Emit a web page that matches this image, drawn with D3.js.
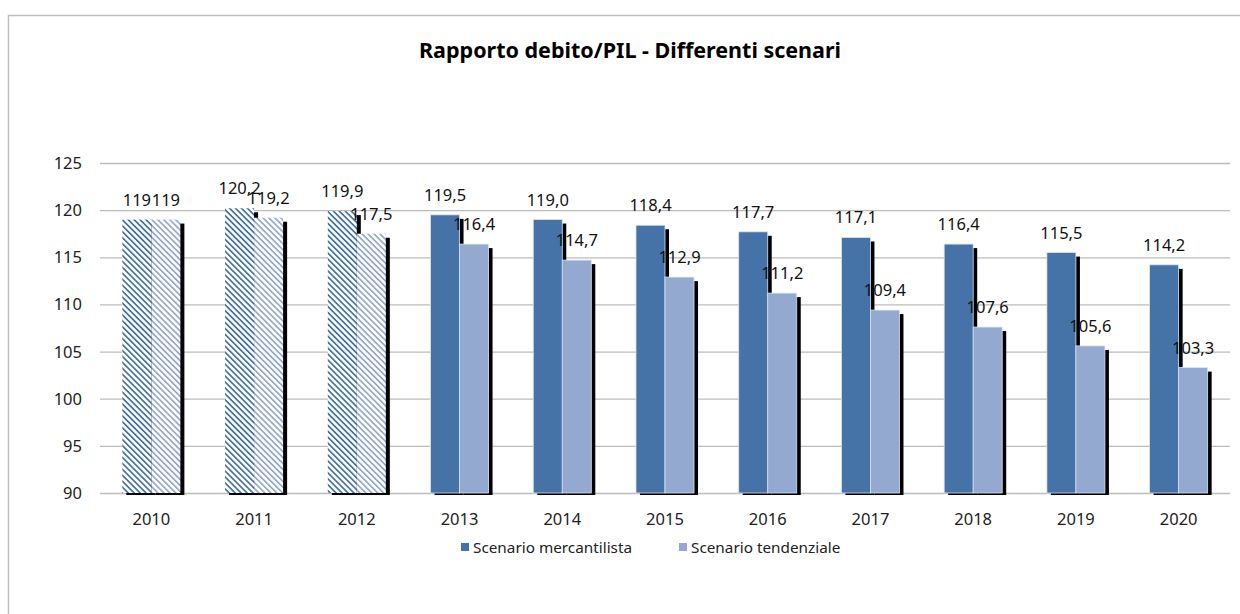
<!DOCTYPE html>
<html>
<head>
<meta charset="utf-8">
<script src="https://cdn.jsdelivr.net/npm/d3@7/dist/d3.min.js"></script>
<style>
  body { margin: 0; background: #fff; }
  svg { display: block; font-family: "Noto Sans", "Open Sans", sans-serif; }
</style>
</head>
<body>
<div id="chart"></div>
<script>
// dati
const anni = ["2010", "2011", "2012", "2013", "2014", "2015", "2016", "2017", "2018", "2019", "2020"];
const anniStorici = ["2010", "2011", "2012"]; // barre tratteggiate
const mercantilista = [119, 120.2, 119.9, 119.5, 119.0, 118.4, 117.7, 117.1, 116.4, 115.5, 114.2];
const tendenziale = [119, 119.2, 117.5, 116.4, 114.7, 112.9, 111.2, 109.4, 107.6, 105.6, 103.3];
const decimali = [0, 1, 1, 1, 1, 1, 1, 1, 1, 1, 1];
const yTicks = [90, 95, 100, 105, 110, 115, 120, 125];
const serie = ["Scenario mercantilista", "Scenario tendenziale"];
const colori = ["#4572a7", "#93a9d0"];

const W = 1240, H = 614;
const margin = { top: 163, right: 10, bottom: 121, left: 100 };
const width = W - margin.left - margin.right,
  height = H - margin.top - margin.bottom;

const svg = d3.select("#chart").append("svg").attr("width", W).attr("height", H);

// bordo esterno
svg.append("rect")
  .attr("x", 8.5).attr("y", 15.5)
  .attr("width", W).attr("height", H)
  .attr("fill", "none").attr("stroke", "#bfbfbf").attr("stroke-width", 1.5);

// pattern tratteggio
const defs = svg.append("defs");
colori.forEach((c, i) => {
  const p = defs.append("pattern")
    .attr("id", "hatch" + i)
    .attr("patternUnits", "userSpaceOnUse")
    .attr("width", 4.2).attr("height", 4.2)
    .attr("patternTransform", "rotate(-45)");
  p.append("rect").attr("width", 4.2).attr("height", 4.2).attr("fill", "#fff");
  p.append("rect").attr("width", 1.7).attr("height", 4.2).attr("fill", c);
});
defs.append("clipPath").attr("id", "clipShadow")
  .append("rect").attr("x", 0).attr("y", -50).attr("width", width + 20).attr("height", height + 52);

const g = svg.append("g").attr("transform", `translate(${margin.left},${margin.top})`);

const x = d3.scaleBand().domain(anni).range([0, width]).paddingInner(0.435).paddingOuter(0.2175);
const x1 = d3.scaleBand().domain([0, 1]).range([0, x.bandwidth()]);
const y = d3.scaleLinear().domain([90, 125]).range([height, 0]);

// griglia
g.append("g")
  .call(d3.axisLeft(y).tickValues(yTicks).tickSize(-width).tickFormat(""))
  .call((s) => s.select(".domain").remove())
  .selectAll("line").attr("stroke", "#bcbcbc").attr("stroke-width", 1.3);

// etichette asse y
g.append("g").selectAll("text")
  .data(yTicks).enter().append("text")
  .attr("x", -18).attr("y", (d) => y(d) + 6)
  .attr("text-anchor", "end")
  .style("font-size", "16.5px").attr("fill", "#222")
  .text((d) => d);

const dati = anni.map((a, i) => ({
  anno: a,
  valori: [mercantilista[i], tendenziale[i]],
  dec: decimali[i],
  storico: anniStorici.includes(a),
}));

const flat = dati.flatMap((d) => d.valori.map((v, k) => ({ anno: d.anno, v, k, dec: d.dec, storico: d.storico })));

// barre con ombra (ogni serie sopra l'ombra della precedente)
[0, 1].forEach((k) => {
  const sub = flat.filter((d) => d.k === k);
  g.append("g").attr("clip-path", "url(#clipShadow)")
    .selectAll("rect").data(sub).enter().append("rect")
    .attr("x", (d) => x(d.anno) + x1(d.k) + 4)
    .attr("y", (d) => y(d.v) + 4)
    .attr("width", x1.bandwidth())
    .attr("height", (d) => height - y(d.v))
    .attr("fill", "#000");
  g.append("g").selectAll("rect")
    .data(sub).enter().append("rect")
    .attr("x", (d) => x(d.anno) + x1(d.k))
    .attr("y", (d) => y(d.v))
    .attr("width", x1.bandwidth())
    .attr("height", (d) => height - y(d.v))
    .attr("fill", (d) => (d.storico ? `url(#hatch${k})` : colori[k]))
    .attr("stroke", (d) => (d.storico ? "none" : "#dbe4f0"))
    .attr("stroke-width", 0.8);
});

// etichette dati
g.append("g").selectAll("text")
  .data(flat).enter().append("text")
  .attr("x", (d) => x(d.anno) + x1(d.k) + x1.bandwidth() / 2)
  .attr("y", (d) => y(d.v) - 14)
  .attr("text-anchor", "middle")
  .style("font-size", "16.5px").attr("fill", "#111")
  .text((d) => d.v.toFixed(d.dec).replace(".", ","));

// etichette asse x
g.append("g").selectAll("text")
  .data(anni).enter().append("text")
  .attr("x", (d) => x(d) + x.bandwidth() / 2)
  .attr("y", height + 32)
  .attr("text-anchor", "middle")
  .style("font-size", "16.5px").attr("fill", "#222")
  .text((d) => d);

// titolo
svg.append("text")
  .attr("x", 630).attr("y", 58)
  .attr("text-anchor", "middle")
  .style("font-size", "21.5px").style("font-weight", "bold").attr("fill", "#000")
  .text("Rapporto debito/PIL - Differenti scenari");

// legenda
const legX = [461, 679];
const leg = svg.append("g").selectAll("g")
  .data(serie).enter().append("g")
  .attr("transform", (d, i) => `translate(${legX[i]},543)`);
leg.append("rect").attr("width", 8).attr("height", 8).attr("fill", (d, i) => colori[i]);
leg.append("text")
  .attr("x", 12).attr("y", 10)
  .style("font-size", "15.3px").attr("fill", "#222")
  .text((d) => d);
</script>
</body>
</html>
